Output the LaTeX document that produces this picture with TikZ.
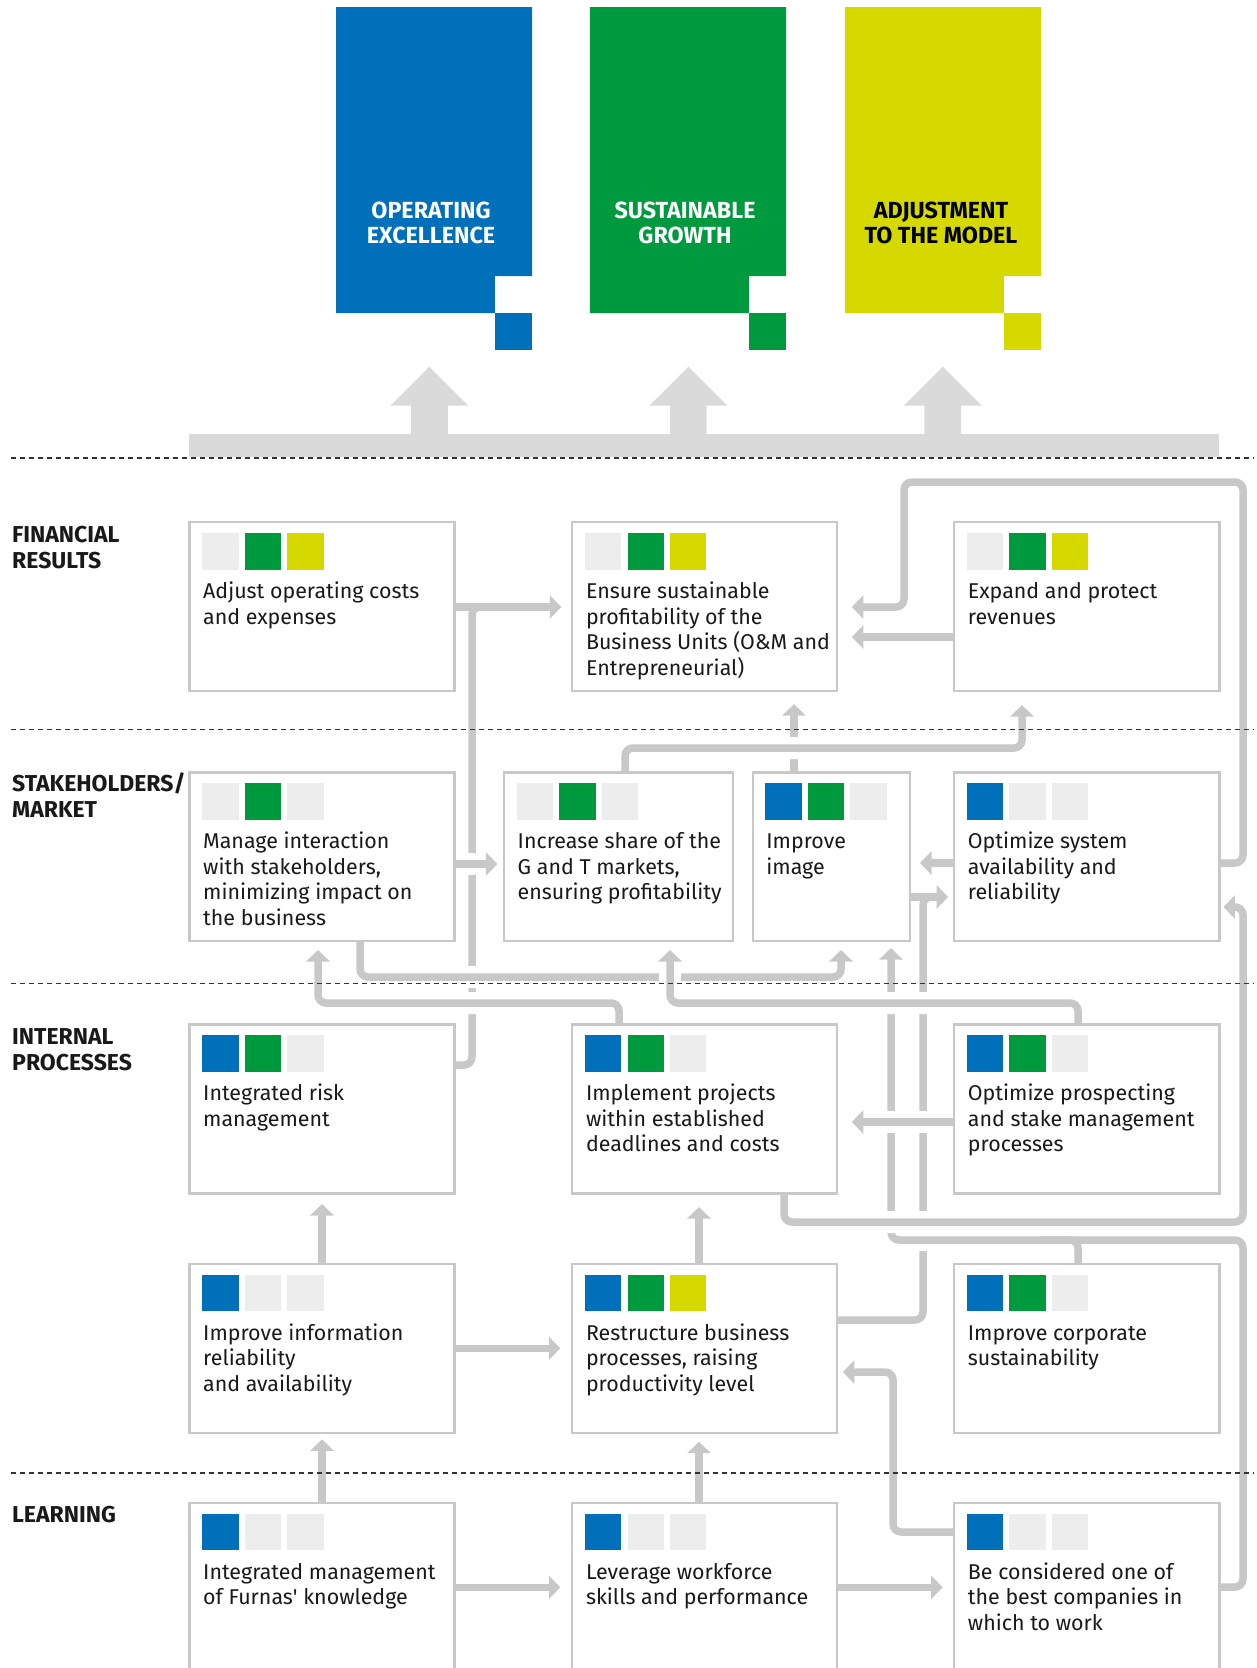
\documentclass[tikz,border=0pt]{standalone}
\usepackage{fontspec}
\setmainfont{Fira Sans}
\usetikzlibrary{arrows.meta,calc}
\definecolor{cblue}{RGB}{0,112,186}
\definecolor{cgreen}{RGB}{0,154,62}
\definecolor{cyellow}{RGB}{213,217,0}
\definecolor{sqgray}{RGB}{237,237,237}
\definecolor{lg}{RGB}{200,200,200}
\definecolor{bgray}{RGB}{200,200,200}
\definecolor{barg}{RGB}{218,218,218}
\newcommand\boxtext[1]{\vtop{\halign{##\hfil\cr#1\crcr}}}
\newcommand\ctrtext[1]{\vtop{\halign{\hfil##\hfil\cr#1\crcr}}}
\newcommand\sqrs[4]{%
 \fill[#2] ($(#1.north west)+(12.5,10.7)$) rectangle +(36.5,36.7);
 \fill[#3] ($(#1.north west)+(55.2,10.7)$) rectangle +(36.5,36.7);
 \fill[#4] ($(#1.north west)+(97.6,10.7)$) rectangle +(36.5,36.7);}
\begin{document}
\begin{tikzpicture}[x=1pt,y=-1pt,
  conn/.style={draw=lg, line width=7.5pt, rounded corners=8pt},
  arr/.style={-{Triangle[width=23pt,length=11.5pt]}, shorten >=#1},
  arr/.default=10pt,
  ontop/.style={preaction={draw=white, line width=22pt, -}},
  ghost/.style={anchor=north west, inner sep=0pt, outer sep=0pt},
  btext/.style={anchor=base west, inner sep=0pt, font=\fontsize{21.4}{25.5}\selectfont, text=black!90},
  rlabel/.style={anchor=base west, inner sep=0pt, font=\bfseries\fontsize{23}{26}\selectfont, text=black!90},
  btitle/.style={anchor=base, inner sep=0pt, font=\bfseries\fontsize{23.3}{25}\selectfont},
  dline/.style={draw=black!80, line width=1.1pt, dash pattern=on 5pt off 4pt}
]
\useasboundingbox (0,0) rectangle (1257,1668);
\clip (0,0) rectangle (1257,1668);

% ---------- banners ----------
\fill[cblue] (336,7) -- (532.2,7) -- (532.2,276) -- (494.9,276) -- (494.9,313) -- (336,313) -- cycle;
\fill[cblue] (494.9,313) rectangle (532.2,349.7);
\fill[cgreen] (589.9,7) -- (786.2,7) -- (786.2,276) -- (748.9,276) -- (748.9,313) -- (589.9,313) -- cycle;
\fill[cgreen] (748.9,313) rectangle (786.2,349.7);
\fill[cyellow] (844.8,7) -- (1041.2,7) -- (1041.2,276) -- (1003.8,276) -- (1003.8,313) -- (844.8,313) -- cycle;
\fill[cyellow] (1003.8,313) rectangle (1041.2,349.7);
\node[btitle, text=white] (t1) at (431,218.3) {\ctrtext{OPERATING\cr EXCELLENCE}};
\node[btitle, text=white] (t2) at (685,218.3) {\ctrtext{SUSTAINABLE\cr GROWTH}};
\node[btitle, text=black] (t3) at (941,218.3) {\ctrtext{ADJUSTMENT\cr TO THE MODEL}};

% ---------- big arrows ----------
\fill[barg] (189.3,434) rectangle (1218.8,457.3);
\foreach \cx in {429.4,688.3,942.8}{
  \fill[barg] (\cx-39,405.7) -- (\cx,366.7) -- (\cx+39,405.7) -- (\cx+18.4,405.7) -- (\cx+18.4,434.5) -- (\cx-18.4,434.5) -- (\cx-18.4,405.7) -- cycle;
}

% ---------- box nodes (geometry) ----------
\node[ghost, minimum width=265, minimum height=168.8] (A1) at (189.5,522.3) {};
\node[ghost, minimum width=264.5, minimum height=168.8] (B1) at (572.3,522.3) {};
\node[ghost, minimum width=265.2, minimum height=168.8] (C1) at (954.2,522.3) {};
\node[ghost, minimum width=265, minimum height=168.2] (A2) at (189.5,772.4) {};
\node[ghost, minimum width=228.8, minimum height=168.2] (B2) at (504,772.4) {};
\node[ghost, minimum width=157.3, minimum height=168.2] (B2b) at (752.7,772.4) {};
\node[ghost, minimum width=265.2, minimum height=168.2] (C2) at (954.2,772.4) {};
\node[ghost, minimum width=265, minimum height=169] (A3) at (189.5,1024.5) {};
\node[ghost, minimum width=264.5, minimum height=169] (B3) at (572.3,1024.5) {};
\node[ghost, minimum width=265.2, minimum height=169] (C3) at (954.2,1024.5) {};
\node[ghost, minimum width=265, minimum height=168.7] (A4) at (189.5,1264) {};
\node[ghost, minimum width=264.5, minimum height=168.7] (B4) at (572.3,1264) {};
\node[ghost, minimum width=265.2, minimum height=168.7] (C4) at (954.2,1264) {};
\node[ghost, minimum width=265, minimum height=200] (A5) at (189.5,1503) {};
\node[ghost, minimum width=264.5, minimum height=200] (B5) at (572.3,1503) {};
\node[ghost, minimum width=265.2, minimum height=200] (C5) at (954.2,1503) {};

% ---------- connectors ----------
% B4 -> C2 (lowest layer)
\draw[conn, shorten >=20pt] (B4.east |- 0,1320) -- (923,1320) -- (923,897) -- (C2.west |- 0,897);
\draw[conn, arr=6pt] (B2b.east |- 0,897) -- (C2.west |- 0,897);
% C5 / C4 -> Improve image
\draw[conn, ontop, arr=7.4pt] (C5.east |- 0,1587) -- (1243,1587) -- (1243,1240) -- (891,1240) -- (B2b.south -| 891,0);
\draw[conn] (C4.north -| 1078,0) -- (1078,1240) -- (1040,1240);
% B3 -> C2 loop
\draw[conn, ontop, arr=4pt] (B3.south -| 784,0) -- (784,1222) -- (1243,1222) -- (1243,907) -- (C2.east |- 0,907);
% A3 -> B1
\draw[conn, shorten >=20pt] (A3.east |- 0,1065) -- (472,1065) -- (472,607) -- (B1.west |- 0,607);
% A1 -> B1
\draw[conn, arr=11pt] (A1.east |- 0,607) -- (B1.west |- 0,607);
% A2 -> B2
\draw[conn, ontop, arr=6.6pt] (A2.east |- 0,864) -- (B2.west |- 0,864);
% A2 -> Improve image
\draw[conn, ontop, arr=9.4pt] (A2.south -| 360,0) -- (360,977) -- (841,977) -- (B2b.south -| 841,0);
% B3 -> A2
\draw[conn, ontop, arr=9.4pt] (B3.north -| 619,0) -- (619,1003) -- (318,1003) -- (A2.south -| 318,0);
% C3 -> B2
\draw[conn, ontop, arr=9.4pt] (C3.north -| 1078,0) -- (1078,1003) -- (670,1003) -- (B2.south -| 670,0);
% C3 -> B3
\draw[conn, ontop, arr=15pt] (C3.west |- 0,1122) -- (B3.east |- 0,1122);
% Improve image -> B1
\draw[conn, arr=13pt] (B2b.north -| 794,0) -- (B1.south -| 794,0);
% B2 -> C1
\draw[conn, ontop, arr=14pt] (B2.north -| 625,0) -- (625,748) -- (1022,748) -- (C1.south -| 1022,0);
% C2 -> Improve image
\draw[conn, arr=10pt] (C2.west |- 0,863) -- (B2b.east |- 0,863);
% C2 -> B1
\draw[conn, arr=15pt] (C2.east |- 0,863) -- (1243,863) -- (1243,482) -- (904,482) -- (904,607) -- (B1.east |- 0,607);
% C1 -> B1
\draw[conn, arr=15pt] (C1.west |- 0,637) -- (B1.east |- 0,637);
% lower verticals and horizontals
\draw[conn, arr=10.5pt] (A4.north -| 322,0) -- (A3.south -| 322,0);
\draw[conn, arr=13.5pt] (B4.north -| 699,0) -- (B3.south -| 699,0);
\draw[conn, arr=6.6pt] (A5.north -| 322,0) -- (A4.south -| 322,0);
\draw[conn, arr=9pt] (B5.north -| 699,0) -- (B4.south -| 699,0);
\draw[conn, arr=12pt] (A4.east |- 0,1348.3) -- (B4.west |- 0,1348.3);
\draw[conn, arr=12pt] (A5.east |- 0,1587.3) -- (B5.west |- 0,1587.3);
\draw[conn, arr=11.5pt] (B5.east |- 0,1587.3) -- (C5.west |- 0,1587.3);
\draw[conn, arr=6pt] (C5.west |- 0,1532) -- (893,1532) -- (893,1372) -- (B4.east |- 0,1372);

% ---------- boxes drawn ----------
\foreach \b in {A1,B1,C1,A2,B2,B2b,C2,A3,B3,C3,A4,B4,C4,A5,B5,C5}{
  \draw[bgray, line width=2.2pt, fill=white] (\b.north west) rectangle (\b.south east);
}
\sqrs{A1}{sqgray}{cgreen}{cyellow}
\sqrs{B1}{sqgray}{cgreen}{cyellow}
\sqrs{C1}{sqgray}{cgreen}{cyellow}
\sqrs{A2}{sqgray}{cgreen}{sqgray}
\sqrs{B2}{sqgray}{cgreen}{sqgray}
\sqrs{B2b}{cblue}{cgreen}{sqgray}
\sqrs{C2}{cblue}{sqgray}{sqgray}
\sqrs{A3}{cblue}{cgreen}{sqgray}
\sqrs{B3}{cblue}{cgreen}{sqgray}
\sqrs{C3}{cblue}{cgreen}{sqgray}
\sqrs{A4}{cblue}{sqgray}{sqgray}
\sqrs{B4}{cblue}{cgreen}{cyellow}
\sqrs{C4}{cblue}{cgreen}{sqgray}
\sqrs{A5}{cblue}{sqgray}{sqgray}
\sqrs{B5}{cblue}{sqgray}{sqgray}
\sqrs{C5}{cblue}{sqgray}{sqgray}

\node[btext] (A1t) at ($(A1.north west)+(13.5,76.4)$) {\boxtext{Adjust operating costs\cr and expenses}};
\node[btext] (B1t) at ($(B1.north west)+(13.5,76.4)$) {\boxtext{Ensure sustainable\cr profitability of the\cr Business Units (O\&M and\cr Entrepreneurial)}};
\node[btext] (C1t) at ($(C1.north west)+(13.5,76.4)$) {\boxtext{Expand and protect\cr revenues}};
\node[btext] (A2t) at ($(A2.north west)+(13.5,76.4)$) {\boxtext{Manage interaction\cr with stakeholders,\cr minimizing impact on\cr the business}};
\node[btext] (B2t) at ($(B2.north west)+(13.5,76.4)$) {\boxtext{Increase share of the\cr G and T markets,\cr ensuring profitability}};
\node[btext] (B2bt) at ($(B2b.north west)+(13.5,76.4)$) {\boxtext{Improve\cr image}};
\node[btext] (C2t) at ($(C2.north west)+(13.5,76.4)$) {\boxtext{Optimize system\cr availability and\cr reliability}};
\node[btext] (A3t) at ($(A3.north west)+(13.5,76.4)$) {\boxtext{Integrated risk\cr management}};
\node[btext] (B3t) at ($(B3.north west)+(13.5,76.4)$) {\boxtext{Implement projects\cr within established\cr deadlines and costs}};
\node[btext] (C3t) at ($(C3.north west)+(13.5,76.4)$) {\boxtext{Optimize prospecting\cr and stake management\cr processes}};
\node[btext] (A4t) at ($(A4.north west)+(13.5,76.4)$) {\boxtext{Improve information\cr reliability\cr and availability}};
\node[btext] (B4t) at ($(B4.north west)+(13.5,76.4)$) {\boxtext{Restructure business\cr processes, raising\cr productivity level}};
\node[btext] (C4t) at ($(C4.north west)+(13.5,76.4)$) {\boxtext{Improve corporate\cr sustainability}};
\node[btext] (A5t) at ($(A5.north west)+(13.5,76.4)$) {\boxtext{Integrated management\cr of Furnas\textquotesingle\ knowledge}};
\node[btext] (B5t) at ($(B5.north west)+(13.5,76.4)$) {\boxtext{Leverage workforce\cr skills and performance}};
\node[btext] (C5t) at ($(C5.north west)+(13.5,76.4)$) {\boxtext{Be considered one of\cr the best companies in\cr which to work}};

% ---------- row labels ----------
\node[rlabel] (L1) at (12,542.3) {\boxtext{FINANCIAL\cr RESULTS}};
\node[rlabel] (L2) at (12,791.7) {\boxtext{STAKEHOLDERS/\cr MARKET}};
\node[rlabel] (L3) at (12,1044.5) {\boxtext{INTERNAL\cr PROCESSES}};
\node[rlabel] (L4) at (12,1522.5) {\boxtext{LEARNING}};

% ---------- dashed separators ----------
\draw[dline] (11,458) -- (1254,458);
\draw[dline] (11,729.6) -- (1254,729.6);
\draw[dline] (11,983.7) -- (1254,983.7);
\draw[dline] (11,1473) -- (1254,1473);
\end{tikzpicture}
\end{document}
